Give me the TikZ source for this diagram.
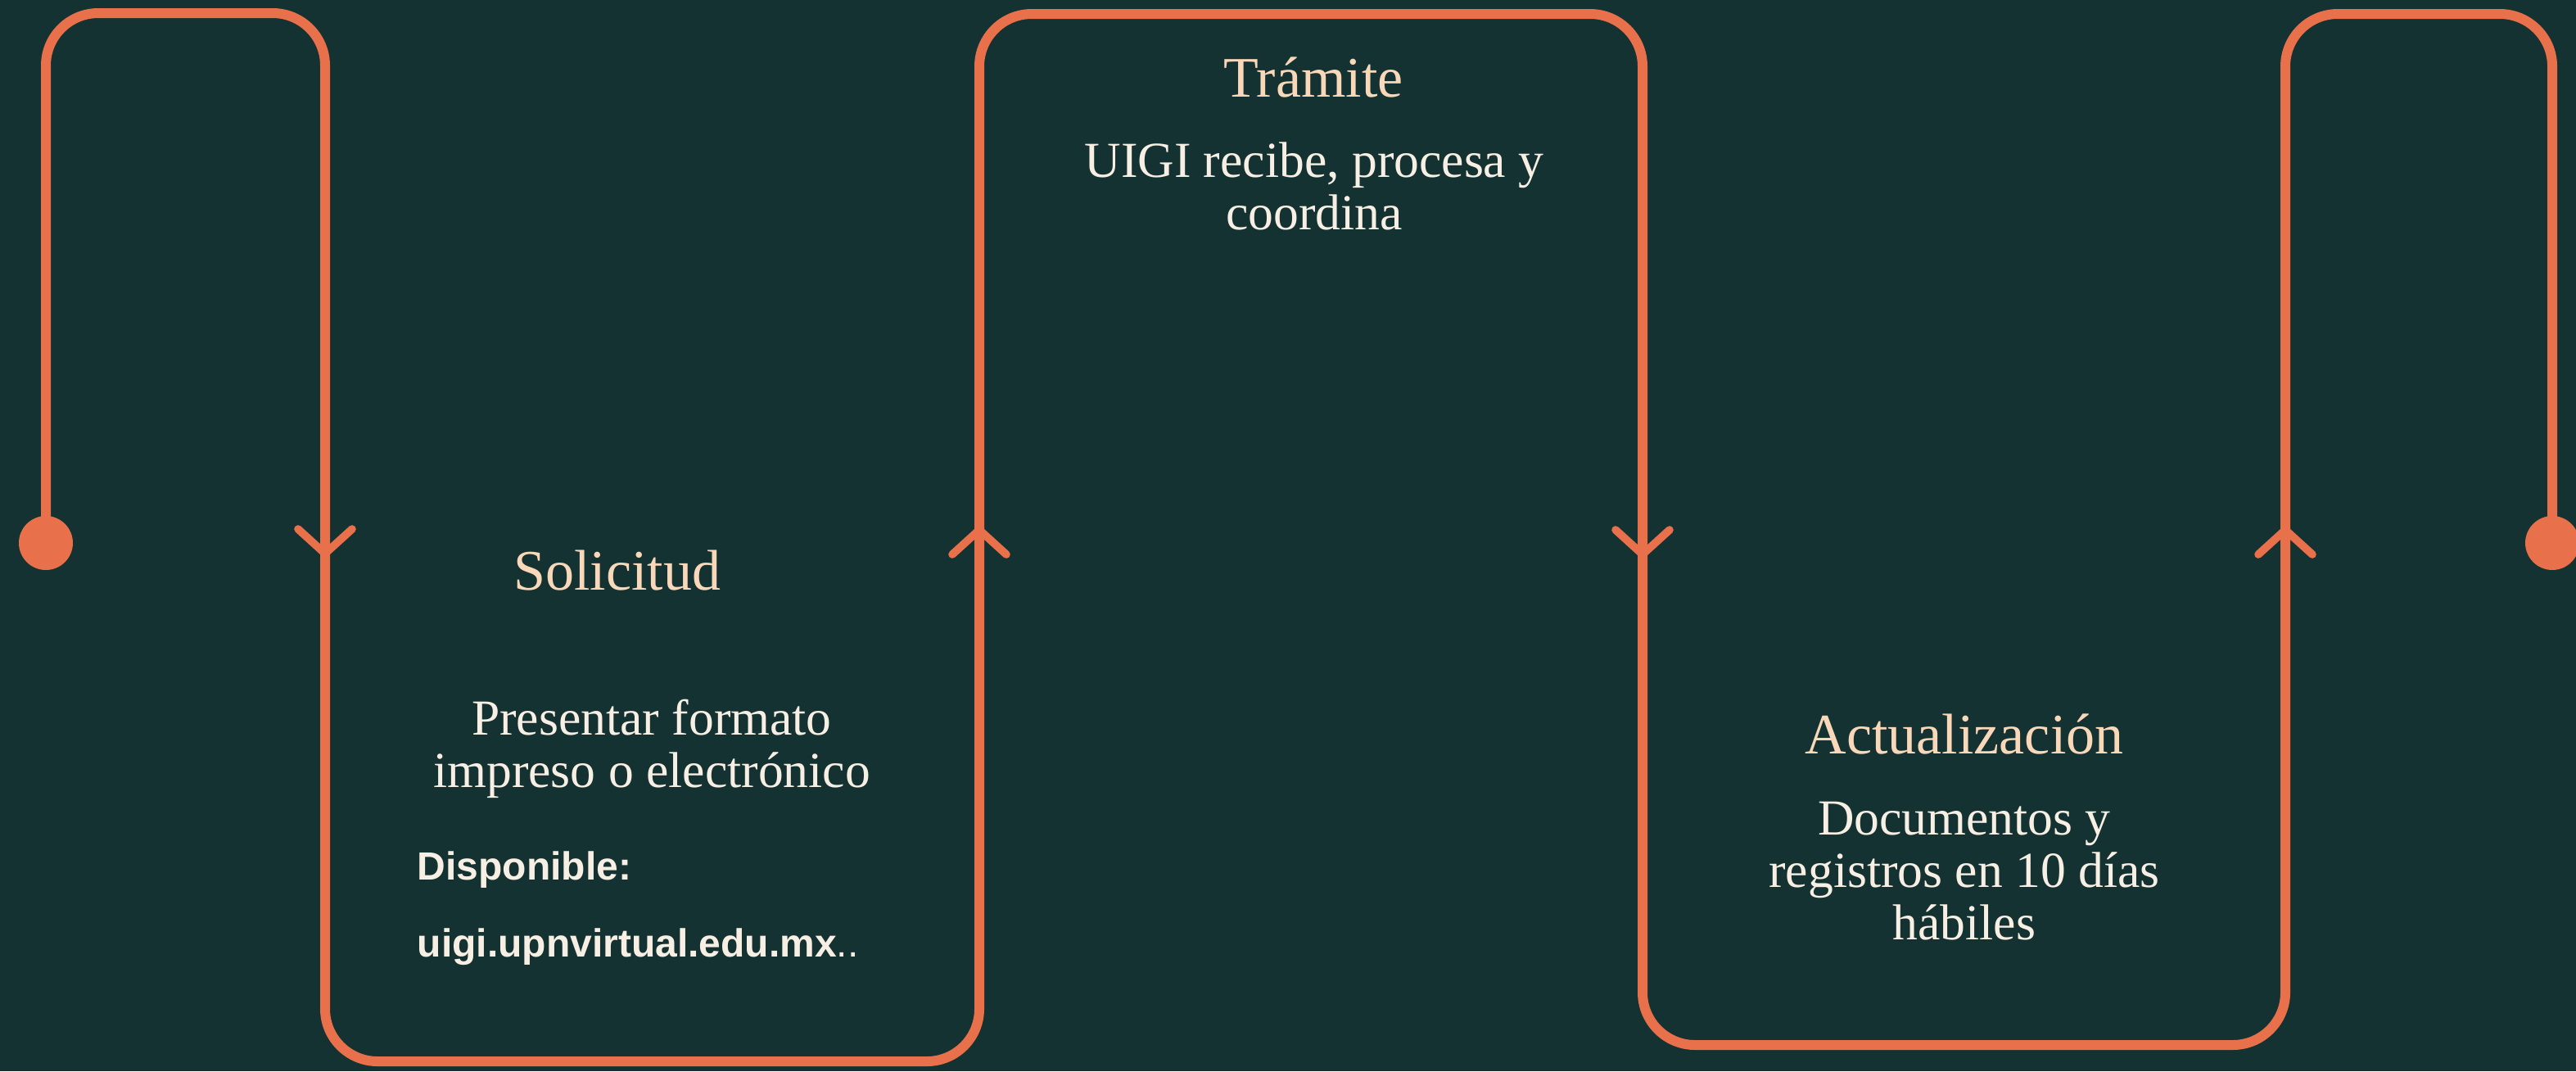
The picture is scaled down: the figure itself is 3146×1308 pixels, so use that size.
\documentclass[tikz,border=0pt]{standalone}
\usepackage{fontspec}
\setmainfont{Liberation Serif}
\newfontfamily\sansfam{Liberation Sans}
\definecolor{bgteal}{HTML}{143231}
\definecolor{flowor}{HTML}{E8704A}
\definecolor{titlepeach}{HTML}{F9D8BA}
\definecolor{bodycream}{HTML}{F7EEE4}
\begin{document}
\begin{tikzpicture}[x=0.25pt,y=-0.25pt,
  flow/.style={draw=flowor,line width=3pt,rounded corners=16pt},
  chev/.style={draw=flowor,line width=2.4pt,line cap=round,line join=round},
  dot/.style={circle,fill=flowor,minimum size=16.5pt,inner sep=0pt},
  titletext/.style={text=titlepeach,font=\fontsize{17.5pt}{18pt}\selectfont,anchor=base,inner sep=0pt},
  bodytext/.style={text=bodycream,font=\fontsize{15.4pt}{15.9pt}\selectfont,align=center,anchor=base,inner sep=0pt},
  sanstext/.style={text=bodycream,font=\sansfam\fontsize{12pt}{14pt}\selectfont,anchor=base west,inner sep=0pt}]
\fill[bgteal] (0,0) rectangle (3146,1308);
\useasboundingbox (0,0) rectangle (3146,1308);
% corners of the path
\coordinate (c1) at (56,16);
\coordinate (c2) at (397,16);
\coordinate (c3) at (397,1296);
\coordinate (c4) at (1196,1296);
\coordinate (c5) at (1196,17);
\coordinate (c6) at (2006,17);
\coordinate (c7) at (2006,1276);
\coordinate (c8) at (2791,1276);
\coordinate (c9) at (2791,17);
\coordinate (c10) at (3117,17);
\node[dot] (start) at (56,663) {};
\node[dot] (end) at (3117,663) {};
\draw[flow] (start.center) -- (c1) -- (c2) -- (c3) -- (c4) -- (c5) -- (c6) -- (c7) -- (c8) -- (c9) -- (c10) -- (end.center);
% arrow chevrons
\coordinate (a1) at (397,676);
\coordinate (a2) at (1196,647);
\coordinate (a3) at (2006,677);
\coordinate (a4) at (2791,647);
\draw[chev] ([shift={(-33,-30)}]a1) -- (a1) -- ([shift={(33,-30)}]a1);
\draw[chev] ([shift={(-33,30)}]a2) -- (a2) -- ([shift={(33,30)}]a2);
\draw[chev] ([shift={(-33,-30)}]a3) -- (a3) -- ([shift={(33,-30)}]a3);
\draw[chev] ([shift={(-33,30)}]a4) -- (a4) -- ([shift={(33,30)}]a4);
% texts (multi-line nodes anchored at the baseline of their last line)
\node[titletext] (t1) at (754,720) {Solicitud};
\node[bodytext] (b1) at (796,961) {Presentar formato\\impreso o electrónico};
\node[sanstext] (s1) at (509,1074) {\bfseries Disponible:};
\node[sanstext] (s2) at (509,1168) {{\bfseries uigi.upnvirtual.edu.mx}..};
\node[titletext] (t2) at (1604,118) {Trámite};
\node[bodytext] (b2) at (1605,280) {UIGI recibe, procesa y\\coordina};
\node[titletext] (t3) at (2399,920) {Actualización};
\node[bodytext] (b3) at (2399,1147) {Documentos y\\registros en 10 días\\hábiles};
\end{tikzpicture}
\end{document}
